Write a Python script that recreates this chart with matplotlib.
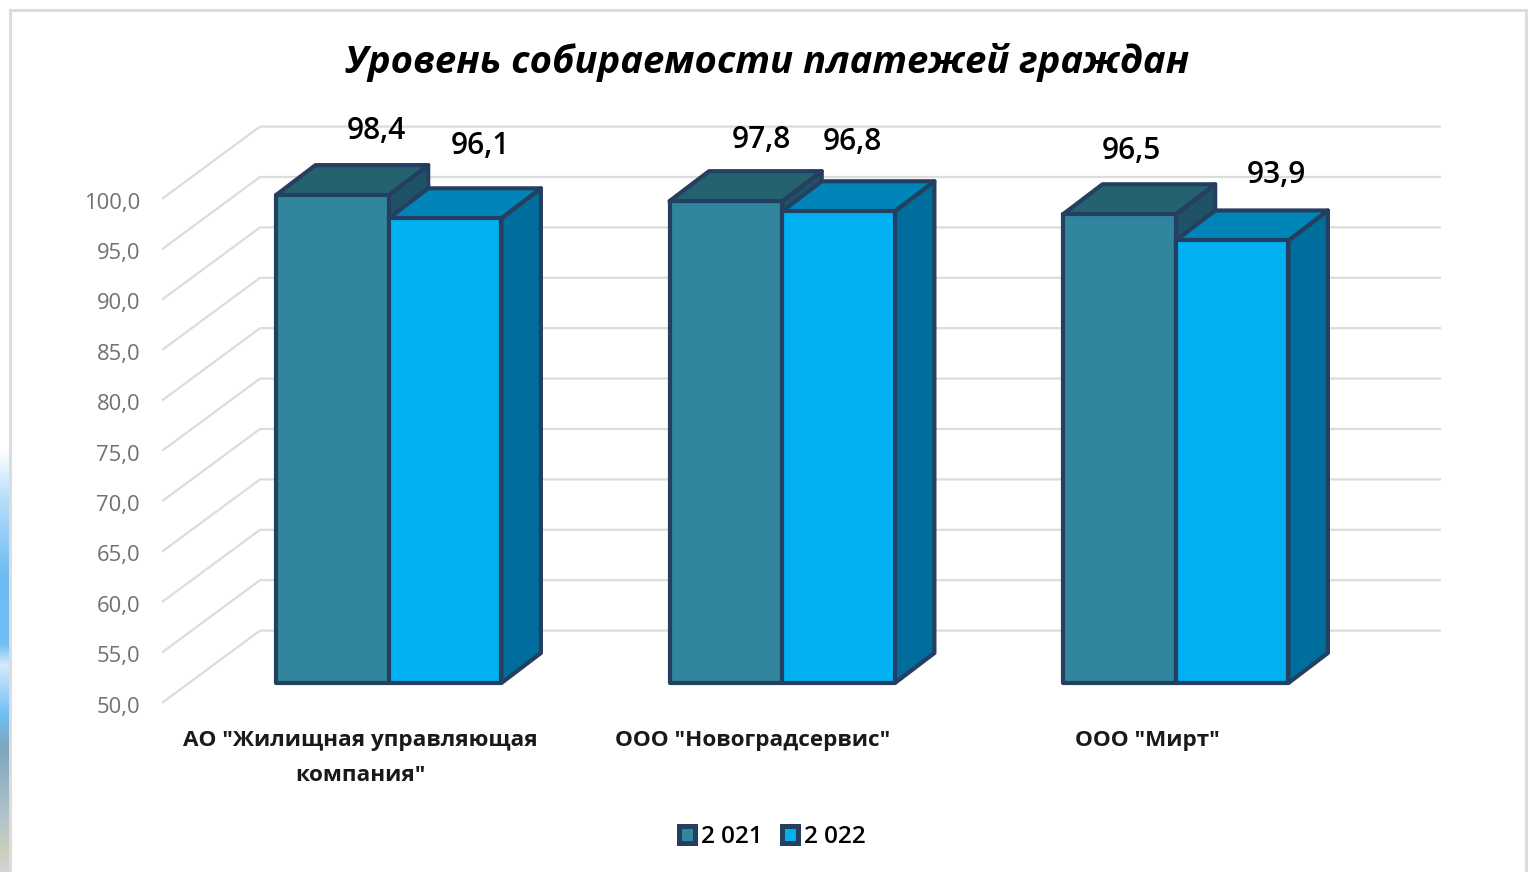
"""Figure: payment collection rate by management company, fake-3D column chart."""

import matplotlib

matplotlib.use("Agg")
import matplotlib.pyplot as plt
from matplotlib.colors import LinearSegmentedColormap
from matplotlib.patches import Patch, Polygon, Rectangle
import numpy as np

plt.rcParams["font.family"] = ["Open Sans", "Noto Sans", "DejaVu Sans"]

TITLE = "Уровень собираемости платежей граждан"
CATEGORIES = ['АО "Жилищная управляющая\nкомпания"', 'ООО "Новоградсервис"', 'ООО "Мирт"']
SERIES_NAMES = ["2 021", "2 022"]
VALUES_2021 = [98.4, 97.8, 96.5]
VALUES_2022 = [96.1, 96.8, 93.9]
TICKS = [50, 55, 60, 65, 70, 75, 80, 85, 90, 95, 100]

EDGE = "#243F60"
GRID = "#DCDCDC"
# front, top, side
COLORS_2021 = ("#31859C", "#25626F", "#1F5266")
COLORS_2022 = ("#00B0F0", "#0085B8", "#006E9C")

W, H = 1528, 872
PX_PER_UNIT = 10.08  # pixels per percent on the front plane
Y0_PX = 683  # pixel row of value 50 on the front plane

fig = plt.figure(figsize=(W / 100, H / 100), dpi=100)
ax = fig.add_axes([0, 0, 1, 1])
ax.set_axis_off()


def to_val(px):
    return 50 + (Y0_PX - px) / PX_PER_UNIT


# slide background peeking through on the left edge
strip = LinearSegmentedColormap.from_list(
    "strip",
    [(0.0, "#FFFFFF"), (0.12, "#B5DDF9"), (0.30, "#6DBBF4"), (0.46, "#70BEF5"),
     (0.51, "#D3EBFB"), (0.63, "#6FBDF3"), (0.71, "#7FA6BC"), (0.88, "#B3C5CB"),
     (0.95, "#C9D0B8"), (1.0, "#D4D4D4")],
)
ax.imshow(
    np.linspace(0, 1, 256)[:, None], cmap=strip, aspect="auto", zorder=0,
    extent=(0, 9, to_val(872), to_val(450)),
)
# x axis is in pixels, y axis is in chart value units
ax.set_xlim(0, W)
ax.set_ylim(to_val(H), to_val(0))

# chart frame, open at the bottom
ax.plot([10, 10, 1526, 1526], [to_val(872), to_val(10), to_val(10), to_val(872)],
        color=GRID, lw=2.2, zorder=1, solid_joinstyle="miter")

# walls: gridlines run from the front-left corner to the back wall
WALL_FRONT_X, WALL_BACK_X, WALL_END_X = 163, 260, 1440
FRONT_SHIFT, BACK_SHIFT = -1.9, 5.2
for t in TICKS:
    ax.plot(
        [WALL_FRONT_X, WALL_BACK_X, WALL_END_X],
        [t + FRONT_SHIFT, t + BACK_SHIFT, t + BACK_SHIFT],
        color=GRID, lw=1.6, zorder=1,
    )
    ax.text(140, t + FRONT_SHIFT - 0.5, f"{t},0", ha="right", va="center",
            fontsize=15.8, color="#707070")

BAR_W = 112.7
DEPTH_X = 39.5
DEPTH_Y = 30 / PX_PER_UNIT
GROUP_START = 276
GROUP_STEP = 393.5


def column(x, value, colors, z):
    front, top, side = colors
    base = TICKS[0]
    style = dict(edgecolor=EDGE, linewidth=3.0, joinstyle="round", zorder=z)
    ax.add_patch(Polygon(
        [(x + BAR_W, base), (x + BAR_W + DEPTH_X, base + DEPTH_Y),
         (x + BAR_W + DEPTH_X, value + DEPTH_Y), (x + BAR_W, value)],
        facecolor=side, **style))
    ax.add_patch(Polygon(
        [(x, value), (x + DEPTH_X, value + DEPTH_Y),
         (x + BAR_W + DEPTH_X, value + DEPTH_Y), (x + BAR_W, value)],
        facecolor=top, **style))
    ax.add_patch(Rectangle((x, base), BAR_W, value - base, facecolor=front, **style))


for i in range(len(CATEGORIES)):
    x = GROUP_START + GROUP_STEP * i
    column(x, VALUES_2021[i], COLORS_2021, 3)
    column(x + BAR_W, VALUES_2022[i], COLORS_2022, 4)

# value labels were dragged by hand in the original, so they sit at fixed spots
LABEL_X = [376, 761, 1131]
LABEL_Y = [131, 140, 151]
LABEL_X2 = [480, 852, 1276]
LABEL_Y2 = [146, 142, 175]
for i in range(len(CATEGORIES)):
    ax.text(LABEL_X[i], to_val(LABEL_Y[i]), f"{VALUES_2021[i]}".replace(".", ","),
            ha="center", va="center", fontsize=21.5, fontweight="semibold", color="black", zorder=6)
    ax.text(LABEL_X2[i], to_val(LABEL_Y2[i]), f"{VALUES_2022[i]}".replace(".", ","),
            ha="center", va="center", fontsize=21.5, fontweight="semibold", color="black", zorder=6)

CAT_X = [360, 753, 1147]
for cx, name in zip(CAT_X, CATEGORIES):
    ax.text(cx, to_val(730), name, ha="center", va="top", fontsize=16.2,
            fontweight="bold", color="#1A1A1A", linespacing=1.9)

ax.text(767, to_val(63), TITLE, ha="center", va="center", fontsize=27.5,
        fontweight="bold", fontstyle="italic", color="black")

handles = [
    Patch(facecolor=COLORS_2021[0], edgecolor=EDGE, linewidth=3.6, joinstyle="round"),
    Patch(facecolor=COLORS_2022[0], edgecolor=EDGE, linewidth=3.6, joinstyle="round"),
]
ax.legend(
    handles, SERIES_NAMES, loc="center", bbox_to_anchor=(772 / W, 1 - 837 / H), frameon=False,
    ncol=2, prop={"size": 17.5, "weight": "semibold"}, handlelength=0.66, handleheight=0.66,
    handletextpad=0.25, columnspacing=0.8, labelcolor="black", borderpad=0,
)

fig.savefig("out.png", dpi=100)
plt.close(fig)
